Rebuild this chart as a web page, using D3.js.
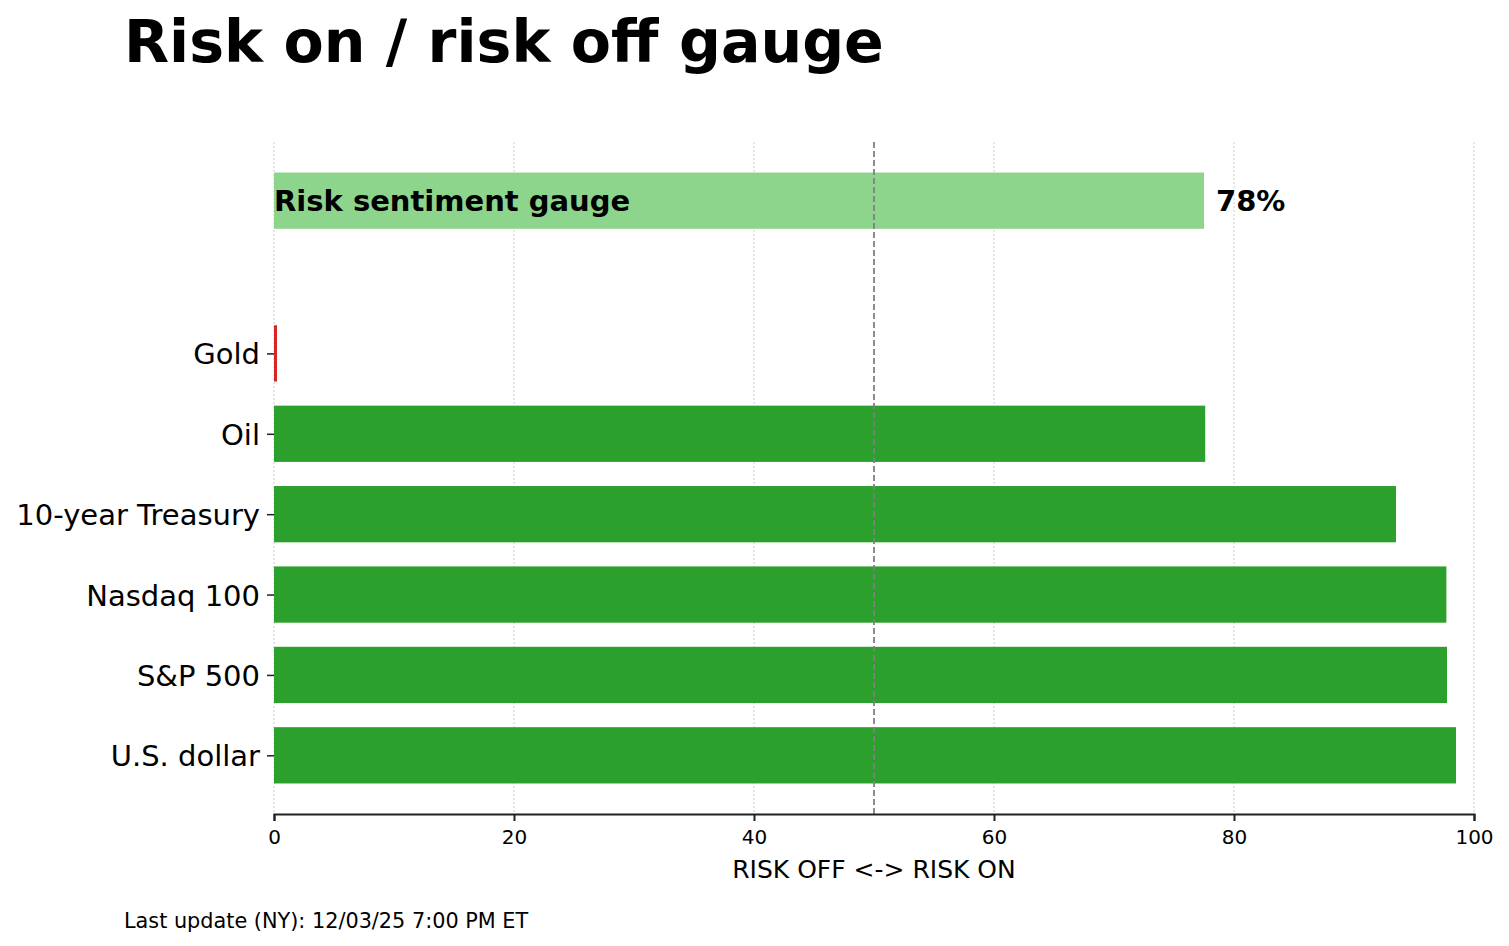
<!DOCTYPE html>
<html>
<head>
<meta charset="utf-8">
<script src="https://cdn.jsdelivr.net/npm/d3@7"></script>
<style>
  body { margin: 0; background: #fff; }
  svg { font-family: 'DejaVu Sans', sans-serif; }
  .grid line { stroke: #ccc; stroke-dasharray: 2,2; stroke-width: 1; }
</style>
</head>
<body>
<svg id="chart" width="1509" height="946"></svg>
<script>
// data
const assets = ['U.S. dollar', 'S&P 500', 'Nasdaq 100', '10-year Treasury', 'Oil', 'Gold'];
const scores = [98.5, 97.75, 97.7, 93.5, 77.6, 0.25];
const gaugeLabel = 'Risk sentiment gauge';
const gaugeValue = 77.5;
const gaugeText = '78%';
const xTicks = [0, 20, 40, 60, 80, 100];

const svg = d3.select('#chart');
const mL = 274, mR = 1474, mT = 142, mB = 814;

const x = d3.scaleLinear().domain([0, 100]).range([mL, mR]);
// assets sit at 0..5, gauge row a bit higher
const gaugePos = 6.9;
const y = d3.scaleLinear().domain([-0.73, 7.63]).range([mB, mT]);
const barH = Math.abs(y(0.35) - y(-0.35));

// grid
svg.append('g').attr('class', 'grid')
  .selectAll('line').data(xTicks).join('line')
  .attr('x1', d => x(d)).attr('x2', d => x(d))
  .attr('y1', mT).attr('y2', mB);

// bars
svg.selectAll('.bar')
  .data(assets).join('rect')
  .attr('class', 'bar')
  .attr('x', x(0))
  .attr('y', (d, i) => y(i) - barH / 2)
  .attr('width', (d, i) => x(scores[i]) - x(0))
  .attr('height', barH)
  .attr('fill', (d, i) => scores[i] >= 50 ? '#2ca02c' : '#d62728');

// gauge bar
svg.append('rect')
  .attr('x', x(0)).attr('y', y(gaugePos) - barH / 2)
  .attr('width', x(gaugeValue) - x(0)).attr('height', barH)
  .attr('fill', '#8dd48d');

svg.append('text')
  .attr('x', x(0)).attr('y', y(gaugePos))
  .attr('dominant-baseline', 'central')
  .attr('font-size', 29).attr('font-weight', 'bold')
  .text(gaugeLabel);

svg.append('text')
  .attr('x', x(gaugeValue) + 12).attr('y', y(gaugePos))
  .attr('dominant-baseline', 'central')
  .attr('font-size', 29).attr('font-weight', 'bold')
  .text(gaugeText);

// 50 line
svg.append('line')
  .attr('x1', x(50)).attr('x2', x(50))
  .attr('y1', mT).attr('y2', mB)
  .attr('stroke', '#808080').attr('stroke-width', 1.8)
  .attr('stroke-dasharray', '6,3');

// x axis
const xAxis = svg.append('g')
  .attr('transform', `translate(0,${mB})`)
  .call(d3.axisBottom(x).tickValues(xTicks).tickSize(7).tickPadding(9));
xAxis.select('.domain').attr('stroke', '#222').attr('stroke-width', 2);
xAxis.selectAll('.tick line').attr('stroke', '#222').attr('stroke-width', 2);
xAxis.selectAll('text').attr('font-size', 20).attr('fill', '#000')
  .attr('font-family', 'DejaVu Sans, sans-serif');

// y axis (ticks only)
const yAxis = svg.append('g')
  .attr('transform', `translate(${mL},0)`)
  .call(d3.axisLeft(y).tickValues(d3.range(assets.length))
    .tickFormat(i => assets[i]).tickSize(7).tickPadding(7));
yAxis.select('.domain').remove();
yAxis.selectAll('.tick line').attr('stroke', '#222').attr('stroke-width', 1.5);
yAxis.selectAll('text').attr('font-size', 29).attr('fill', '#000')
  .attr('dy', '0.36em')
  .attr('font-family', 'DejaVu Sans, sans-serif');

// labels
svg.append('text')
  .attr('x', (mL + mR) / 2).attr('y', 878)
  .attr('text-anchor', 'middle').attr('font-size', 25)
  .text('RISK OFF <-> RISK ON');

svg.append('text')
  .attr('x', 124).attr('y', 62)
  .attr('font-size', 58.6).attr('font-weight', 'bold')
  .text('Risk on / risk off gauge');

svg.append('text')
  .attr('x', 124).attr('y', 928)
  .attr('font-size', 20.8)
  .text('Last update (NY): 12/03/25 7:00 PM ET');
</script>
</body>
</html>
